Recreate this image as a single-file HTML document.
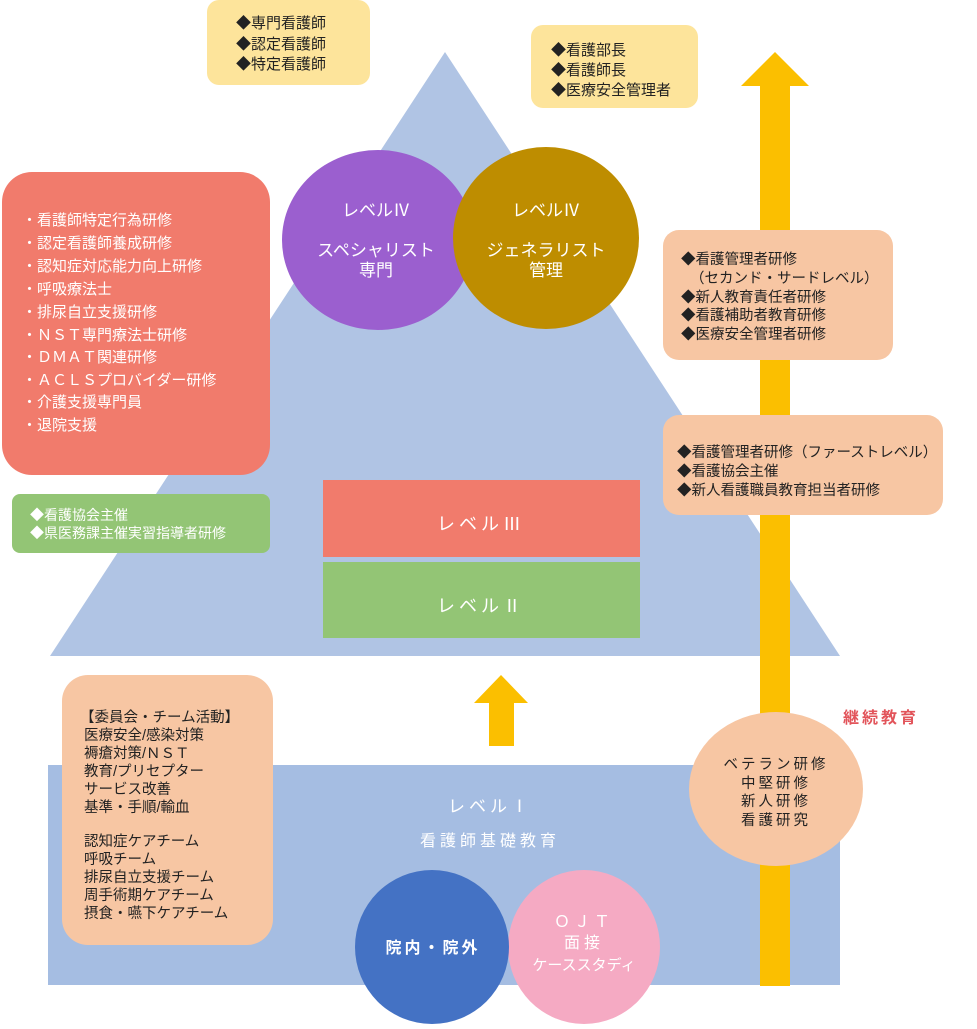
<!DOCTYPE html>
<html><head><meta charset="utf-8"><style>
body{margin:0;width:977px;height:1024px;overflow:hidden;background:#fff}
svg text{font-family:"Liberation Sans","Noto Sans CJK JP",sans-serif}
</style></head><body>
<svg width="977" height="1024" viewBox="0 0 977 1024" xmlns="http://www.w3.org/2000/svg">
<polygon points="445,52 840,656 50,656" fill="#b0c4e4"/>
<rect x="48" y="765" width="792" height="220" fill="#a5bde2"/>
<rect x="760" y="84" width="30" height="902" fill="#fbbf00"/>
<polygon points="775,52 809,86 741,86" fill="#fbbf00"/>
<rect x="489" y="700" width="25" height="46" fill="#fbbf00"/>
<polygon points="501,675 528,703 474,703" fill="#fbbf00"/>
<rect x="207" y="0" width="163" height="85" rx="12" fill="#fde49b"/>
<text font-size="15" fill="#222"><tspan x="236" y="28">◆専門看護師</tspan><tspan x="236" y="49">◆認定看護師</tspan><tspan x="236" y="69">◆特定看護師</tspan></text>
<rect x="531" y="25" width="167" height="83" rx="12" fill="#fde49b"/>
<text font-size="15" fill="#222"><tspan x="551" y="55">◆看護部長</tspan><tspan x="551" y="75">◆看護師長</tspan><tspan x="551" y="95">◆医療安全管理者</tspan></text>
<rect x="2" y="172" width="268" height="303" rx="30" fill="#f17b6c"/>
<text font-size="15" fill="#fff"><tspan x="22" y="225">・看護師特定行為研修</tspan><tspan x="22" y="248">・認定看護師養成研修</tspan><tspan x="22" y="271">・認知症対応能力向上研修</tspan><tspan x="22" y="294">・呼吸療法士</tspan><tspan x="22" y="317">・排尿自立支援研修</tspan><tspan x="22" y="340">・ＮＳＴ専門療法士研修</tspan><tspan x="22" y="362">・ＤＭＡＴ関連研修</tspan><tspan x="22" y="385">・ＡＣＬＳプロバイダー研修</tspan><tspan x="22" y="407">・介護支援専門員</tspan><tspan x="22" y="430">・退院支援</tspan></text>
<rect x="12" y="494" width="258" height="59" rx="8" fill="#93c575"/>
<text font-size="14" fill="#fff"><tspan x="30" y="520">◆看護協会主催</tspan><tspan x="30" y="538">◆県医務課主催実習指導者研修</tspan></text>
<ellipse cx="378" cy="240" rx="96" ry="90" fill="#9b5fcf"/>
<ellipse cx="546" cy="238" rx="93" ry="91" fill="#be8d00"/>
<text font-size="17" fill="#fff" text-anchor="middle"><tspan x="376" y="216">レベルⅣ</tspan><tspan x="376" y="256">スペシャリスト</tspan><tspan x="376" y="276">専門</tspan><tspan x="546" y="216">レベルⅣ</tspan><tspan x="546" y="256">ジェネラリスト</tspan><tspan x="546" y="276">管理</tspan></text>
<rect x="663" y="230" width="230" height="130" rx="16" fill="#f7c6a3"/>
<text font-size="14.5" fill="#222"><tspan x="681" y="264">◆看護管理者研修</tspan><tspan x="690" y="283">（セカンド・サードレベル）</tspan><tspan x="681" y="302">◆新人教育責任者研修</tspan><tspan x="681" y="320">◆看護補助者教育研修</tspan><tspan x="681" y="339">◆医療安全管理者研修</tspan></text>
<rect x="663" y="415" width="280" height="100" rx="16" fill="#f7c6a3"/>
<text font-size="14.5" fill="#222"><tspan x="677" y="457">◆看護管理者研修（ファーストレベル）</tspan><tspan x="677" y="476">◆看護協会主催</tspan><tspan x="677" y="495">◆新人看護職員教育担当者研修</tspan></text>
<rect x="323" y="480" width="317" height="77" fill="#f17b6c"/>
<rect x="323" y="562" width="317" height="76" fill="#93c575"/>
<text font-size="18" fill="#fff" text-anchor="middle" letter-spacing="4"><tspan x="481" y="530">レベルⅢ</tspan><tspan x="481" y="612">レベルⅡ</tspan></text>
<rect x="62" y="675" width="211" height="270" rx="26" fill="#f7c6a3"/>
<text font-size="14.5" fill="#222"><tspan x="80" y="722">【委員会・チーム活動】</tspan><tspan x="84" y="740">医療安全/感染対策</tspan><tspan x="84" y="758">褥瘡対策/ＮＳＴ</tspan><tspan x="84" y="776">教育/プリセプター</tspan><tspan x="84" y="794">サービス改善</tspan><tspan x="84" y="812">基準・手順/輸血</tspan><tspan x="84" y="846">認知症ケアチーム</tspan><tspan x="84" y="864">呼吸チーム</tspan><tspan x="84" y="882">排尿自立支援チーム</tspan><tspan x="84" y="900">周手術期ケアチーム</tspan><tspan x="84" y="918">摂食・嚥下ケアチーム</tspan></text>
<text font-size="17" fill="#fff" text-anchor="middle" letter-spacing="4"><tspan x="490" y="812">レベルⅠ</tspan></text>
<text font-size="16" fill="#fff" text-anchor="middle" letter-spacing="4"><tspan x="490" y="846">看護師基礎教育</tspan></text>
<ellipse cx="776" cy="789" rx="87" ry="77" fill="#f7c6a3"/>
<text font-size="14.5" fill="#222" text-anchor="middle" letter-spacing="3"><tspan x="776" y="769">ベテラン研修</tspan><tspan x="776" y="788">中堅研修</tspan><tspan x="776" y="806">新人研修</tspan><tspan x="776" y="825">看護研究</tspan></text>
<text x="843" y="723" font-size="16" fill="#e2545a" font-weight="bold" letter-spacing="3">継続教育</text>
<ellipse cx="584" cy="947" rx="76" ry="77" fill="#f5aac3"/>
<ellipse cx="432" cy="947" rx="77" ry="77" fill="#4472c4"/>
<text font-size="16" fill="#fff" text-anchor="middle" font-weight="bold" letter-spacing="3"><tspan x="433" y="953">院内・院外</tspan></text>
<text font-size="16" fill="#fff" text-anchor="middle" letter-spacing="4"><tspan x="584" y="927">ＯＪＴ</tspan><tspan x="584" y="948">面接</tspan></text>
<text font-size="15" fill="#fff" text-anchor="middle"><tspan x="584" y="970">ケーススタディ</tspan></text>
</svg>
</body></html>
